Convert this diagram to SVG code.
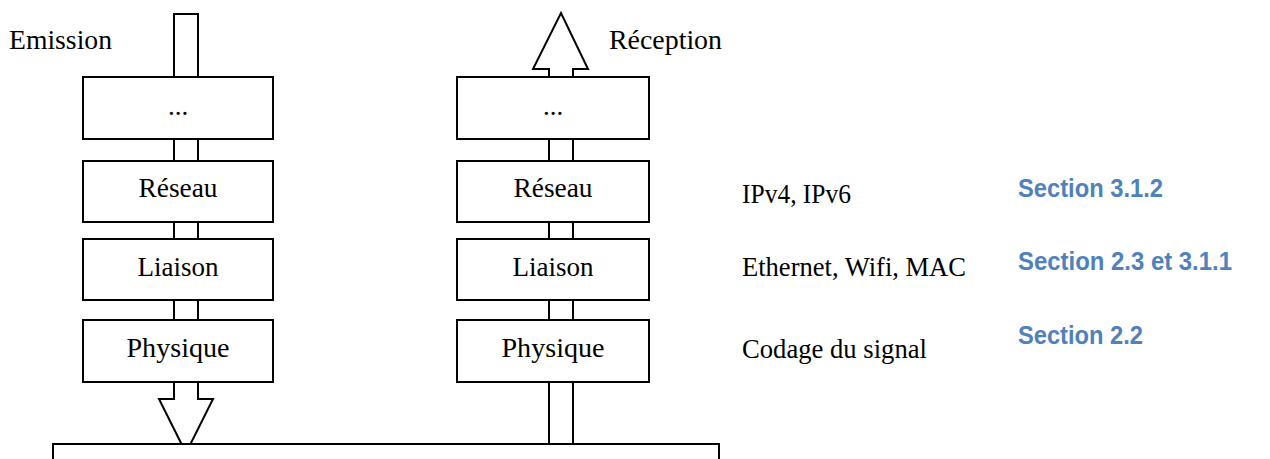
<svg xmlns="http://www.w3.org/2000/svg" width="1270" height="459" viewBox="0 0 1270 459">
<style>
.box{fill:#fff;stroke:#000;stroke-width:2}
.pipe{fill:#fff;stroke:#000;stroke-width:2;stroke-linejoin:miter}
.t{font-family:"Liberation Serif",serif;font-size:27px;fill:#000}
.c{text-anchor:middle}
.s{font-family:"Liberation Sans",sans-serif;font-weight:bold;font-size:25px;fill:#4F81BD}
</style>
<rect width="1270" height="459" fill="#fff"/>
<g id="connectors">
<path class="pipe" d="M174,14 H198 V399 H213 L186,453 L159,399 H174 Z"/>
<path class="pipe" d="M549,470 V69 H533 L561,13 L588,69 H573 V470 Z"/>
</g>
<g id="emission-label"><text class="t" x="9" y="49" textLength="103" lengthAdjust="spacingAndGlyphs">Emission</text></g>
<g id="reception-label"><text class="t" x="609" y="49" textLength="113" lengthAdjust="spacingAndGlyphs">Réception</text></g>
<g id="tx-autres"><rect class="box" x="83" y="77" width="190" height="62"/><text class="t c" x="178" y="115">...</text></g>
<g id="tx-reseau"><rect class="box" x="83" y="161" width="190" height="61"/><text class="t c" x="178" y="197" textLength="79" lengthAdjust="spacingAndGlyphs">Réseau</text></g>
<g id="tx-liaison"><rect class="box" x="83" y="239" width="190" height="61"/><text class="t c" x="178" y="276" textLength="81" lengthAdjust="spacingAndGlyphs">Liaison</text></g>
<g id="tx-physique"><rect class="box" x="83" y="320" width="190" height="62"/><text class="t c" x="178" y="357" textLength="103" lengthAdjust="spacingAndGlyphs">Physique</text></g>
<g id="rx-autres"><rect class="box" x="457" y="77" width="192" height="62"/><text class="t c" x="553" y="115">...</text></g>
<g id="rx-reseau"><rect class="box" x="457" y="161" width="192" height="61"/><text class="t c" x="553" y="197" textLength="79" lengthAdjust="spacingAndGlyphs">Réseau</text></g>
<g id="rx-liaison"><rect class="box" x="457" y="239" width="192" height="61"/><text class="t c" x="553" y="276" textLength="81" lengthAdjust="spacingAndGlyphs">Liaison</text></g>
<g id="rx-physique"><rect class="box" x="457" y="320" width="192" height="62"/><text class="t c" x="553" y="357" textLength="103" lengthAdjust="spacingAndGlyphs">Physique</text></g>
<g id="support"><rect class="box" x="53" y="444" width="666" height="30"/></g>
<g id="proto-reseau"><text class="t" x="742" y="203" textLength="109" lengthAdjust="spacingAndGlyphs">IPv4, IPv6</text><text class="s" x="1018" y="197" textLength="145" lengthAdjust="spacingAndGlyphs">Section 3.1.2</text></g>
<g id="proto-liaison"><text class="t" x="742" y="276" textLength="224" lengthAdjust="spacingAndGlyphs">Ethernet, Wifi, MAC</text><text class="s" x="1018" y="270" textLength="214" lengthAdjust="spacingAndGlyphs">Section 2.3 et 3.1.1</text></g>
<g id="proto-physique"><text class="t" x="742" y="358" textLength="185" lengthAdjust="spacingAndGlyphs">Codage du signal</text><text class="s" x="1018" y="344" textLength="125" lengthAdjust="spacingAndGlyphs">Section 2.2</text></g>
</svg>
